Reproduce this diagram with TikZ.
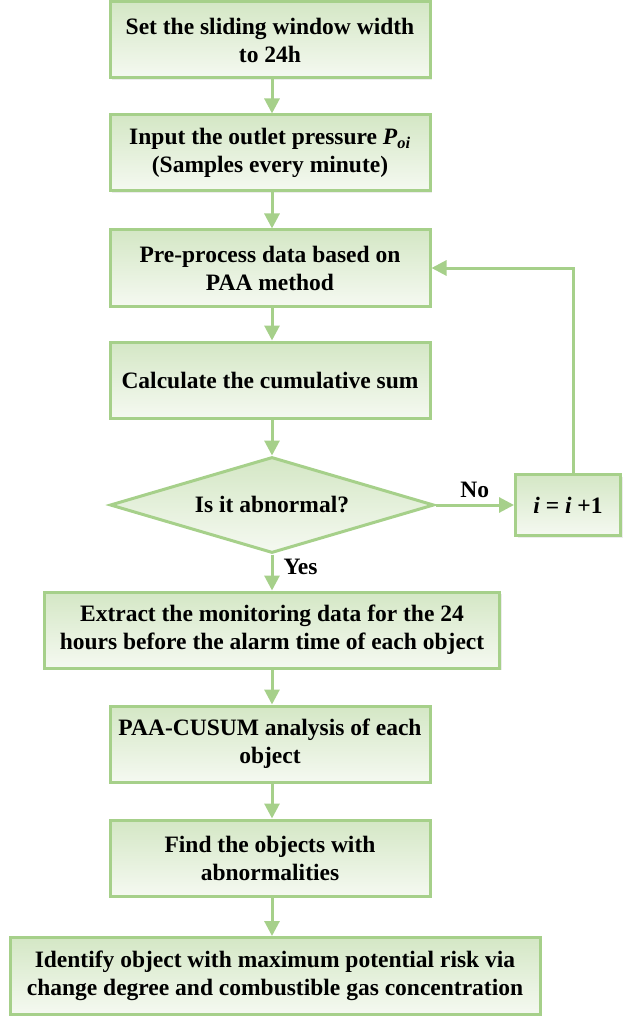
\documentclass[tikz,border=0pt]{standalone}
\usepackage{fontspec}
\setmainfont{Liberation Serif}
\usetikzlibrary{arrows.meta,shapes.geometric,shadows}
\definecolor{edge}{HTML}{A6D08A}
\definecolor{topfill}{HTML}{D4E7C5}
\definecolor{botfill}{HTML}{F5F9F1}
\tikzset{
  boxfont/.style={font=\fontsize{23.5}{28}\selectfont\bfseries},
  stepbox/.style={draw=edge, line width=3pt, top color=topfill, bottom color=botfill,
    minimum width=320pt, minimum height=76pt, align=center, boxfont, inner sep=2pt,
    drop shadow={shadow xshift=2pt, shadow yshift=-2pt, opacity=0.15}},
  decision/.style={diamond, draw=edge, line width=3pt, top color=topfill, bottom color=botfill,
    aspect=3.375, minimum width=324pt, minimum height=96pt, inner sep=0pt, boxfont},
  flow/.style={draw=edge, line width=3pt, -{Triangle[width=15pt,length=15pt]}},
  lbl/.style={boxfont, inner sep=0pt}
}
\begin{document}
\begin{tikzpicture}[x=1pt,y=-1pt]
\useasboundingbox (0,0) rectangle (623,1016);
\node[stepbox] (b1) at (270,40) {Set the sliding window width\\to 24h};
\node[stepbox] (b2) at (270,153) {Input the outlet pressure \textit{P}\textsubscript{\textit{oi}}\\(Samples every minute)};
\node[stepbox] (b3) at (270,268) {Pre-process data based on\\PAA method};
\node[stepbox] (b4) at (270,380) {Calculate the cumulative sum};
\node[decision] (d) at (272,505) {Is it abnormal?};
\node[stepbox, minimum width=105pt, minimum height=61pt] (inc) at (568,505) {\textit{i} = \textit{i} +1};
\node[stepbox, minimum width=455pt] (b5) at (272,630) {Extract the monitoring data for the 24\\hours before the alarm time of each object};
\node[stepbox] (b6) at (270,744) {PAA-CUSUM analysis of each\\object};
\node[stepbox] (b7) at (270,858) {Find the objects with\\abnormalities};
\node[stepbox, minimum width=530pt, minimum height=77pt] (b8) at (275,976) {Identify object with maximum potential risk via\\change degree and combustible gas concentration};

\draw[flow] (b1.south -| d.north) -- (b2.north -| d.north);
\draw[flow] (b2.south -| d.north) -- (b3.north -| d.north);
\draw[flow] (b3.south -| d.north) -- (b4.north -| d.north);
\draw[flow] (b4.south -| d.north) -- (d.north);
\draw[flow] (d.south) -- (b5.north -| d.south) node[lbl, pos=0.35, right=10pt] {Yes};
\draw[flow] (d.east) -- (inc.west) node[lbl, midway, above=6pt] {No};
\draw[flow] (inc.north -| 573,0) -- (573,268) -- (b3.east);
\draw[flow] (b5.south -| d.north) -- (b6.north -| d.north);
\draw[flow] (b6.south -| d.north) -- (b7.north -| d.north);
\draw[flow] (b7.south -| d.north) -- (b8.north -| d.north);
\end{tikzpicture}
\end{document}
